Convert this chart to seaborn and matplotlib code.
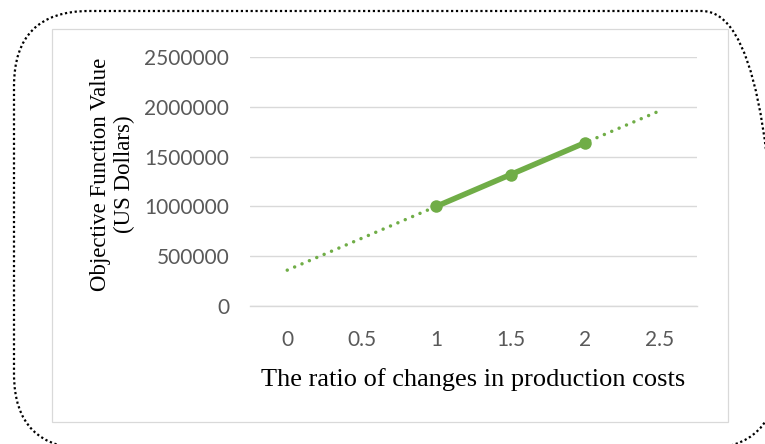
import numpy as np
import pandas as pd
import matplotlib
matplotlib.use("Agg")
import matplotlib.pyplot as plt
from matplotlib.patches import FancyBboxPatch, Rectangle
from matplotlib.transforms import IdentityTransform
from matplotlib.ticker import FixedLocator
import seaborn as sns

# Objective function value for each production-cost ratio
ratio = [1.0, 1.5, 2.0]
objective_value = [1000000, 1320000, 1640000]

# Category axis of the chart
x_ticks = [0, 0.5, 1, 1.5, 2, 2.5]
x_tick_labels = ["0", "0.5", "1", "1.5", "2", "2.5"]
y_ticks = [0, 500000, 1000000, 1500000, 2000000, 2500000]
y_tick_labels = ["0", "500000", "1000000", "1500000", "2000000", "2500000"]

GREEN = "#70ad47"
GRID = "#d9d9d9"
TICK_TEXT = "#595959"

sns.set_style("white")
plt.rcParams["font.family"] = ["Lato", "DejaVu Sans"]

W, H = 765, 444
fig = plt.figure(figsize=(W / 100, H / 100), dpi=100)
ax = fig.add_axes([250 / W, (H - 306) / H, 447 / W, 249 / H])

df = pd.DataFrame({"ratio": ratio, "value": objective_value})

# linear trendline fitted to the series, extended over the whole axis
slope, intercept = np.polyfit(ratio, objective_value, 1)
trend_x = np.array([x_ticks[0], x_ticks[-1]])
trend_df = pd.DataFrame({"ratio": trend_x, "value": slope * trend_x + intercept})

sns.lineplot(data=trend_df, x="ratio", y="value", ax=ax, color=GREEN,
             linewidth=2.5, linestyle=(0, (0.01, 2.3)),
             dash_capstyle="round", zorder=2)
sns.lineplot(data=df, x="ratio", y="value", ax=ax, color=GREEN,
             linewidth=4.0, marker="o", markersize=9,
             markeredgewidth=0, zorder=3)

ax.set_xlim(-0.25, 2.75)
ax.set_ylim(0, 2500000)
ax.set_xticks(x_ticks)
ax.set_xticklabels(x_tick_labels)
ax.set_yticks(y_ticks)
ax.set_yticklabels(y_tick_labels)
ax.xaxis.set_minor_locator(FixedLocator(np.arange(-0.25, 2.76, 0.5)))

ax.grid(axis="y", color=GRID, linewidth=1.0)
ax.set_axisbelow(True)
for side in ["top", "right", "left"]:
    ax.spines[side].set_visible(False)
ax.spines["bottom"].set_color(GRID)
ax.spines["bottom"].set_linewidth(1.0)

ax.tick_params(axis="x", which="major", length=0, pad=17,
               labelsize=15, labelcolor=TICK_TEXT)
ax.tick_params(axis="x", which="minor", length=5, width=1.0,
               color=GRID, direction="out")
ax.tick_params(axis="y", length=0, pad=15, labelsize=15,
               labelcolor=TICK_TEXT)

ax.set_xlabel("The ratio of changes in production costs",
              family="Liberation Serif", fontsize=19, color="black",
              labelpad=13)
ax.set_ylabel("Objective Function Value\n(US Dollars)",
              family="Liberation Serif", fontsize=16.5, color="black",
              linespacing=1.15)
ax.yaxis.set_label_coords(-115 / 447, 0.53)

# chart area frame
fig.add_artist(Rectangle((52, H - 422), 676, 393, transform=IdentityTransform(),
                         fill=False, edgecolor=GRID, linewidth=0.9))
# dotted rounded outline around the chart
fig.add_artist(FancyBboxPatch((14, -5), 763, 438,
                              boxstyle="round,pad=0,rounding_size=75",
                              transform=IdentityTransform(), fill=False,
                              edgecolor="black", linewidth=1.6,
                              linestyle=(0, (1, 1.2)), clip_on=False))

fig.savefig("out.png", dpi=100, facecolor="white")
